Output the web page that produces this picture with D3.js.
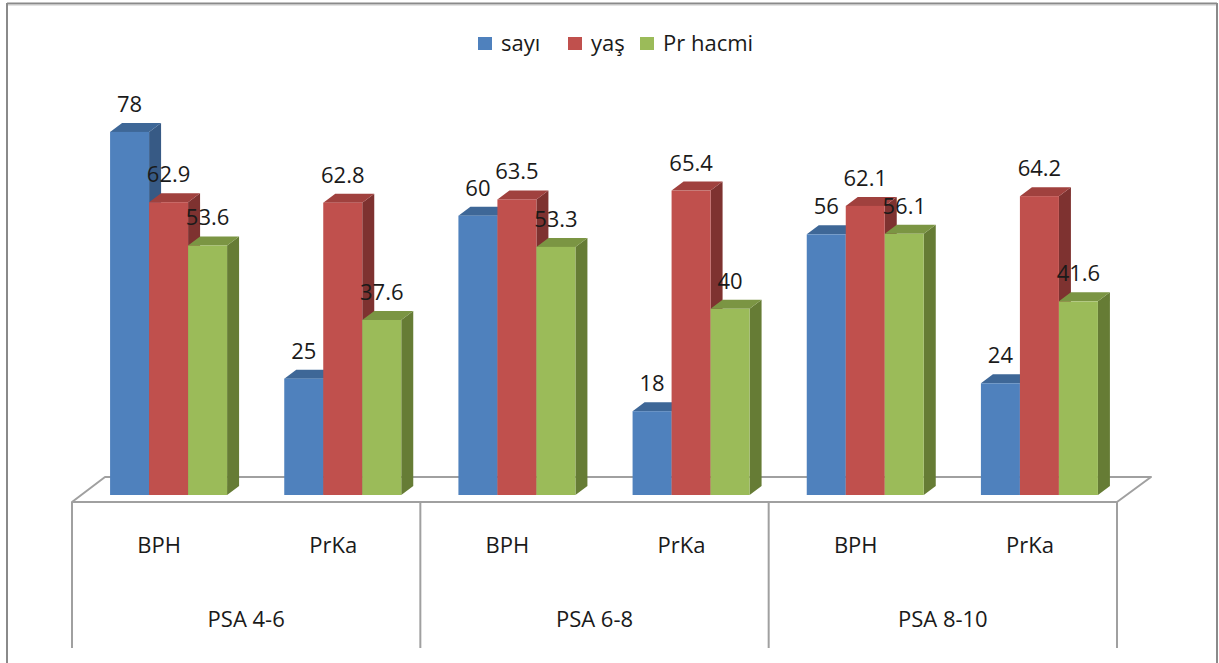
<!DOCTYPE html>
<html>
<head>
<meta charset="utf-8">
<script src="https://cdn.jsdelivr.net/npm/d3@7"></script>
<style>
  html, body { margin: 0; padding: 0; background: #fff; }
  svg { display: block; }
  text { font-family: "Open Sans", "DejaVu Sans", sans-serif; fill: #1a1a1a; }
</style>
</head>
<body>
<svg id="chart" width="1219" height="663"></svg>
<script>
// Sub-categories (diagnosis) inside each PSA range
const groups = ["PSA 4-6", "PSA 6-8", "PSA 8-10"];
const subcats = ["BPH", "PrKa"];
const seriesNames = ["sayı", "yaş", "Pr hacmi"];

// One value per bar, ordered PSA 4-6 BPH, PSA 4-6 PrKa, PSA 6-8 BPH, ...
const sayi    = [78, 25, 60, 18, 56, 24];
const yas     = [62.9, 62.8, 63.5, 65.4, 62.1, 64.2];
const prHacmi = [53.6, 37.6, 53.3, 40, 56.1, 41.6];

const seriesValues = [sayi, yas, prHacmi];
const frontColors = ["#4f81bd", "#c0504d", "#9bbb59"];
const topColors   = ["#3e6797", "#a0413e", "#7b9543"];
const sideColors  = ["#375a85", "#7e3230", "#667c35"];

const svg = d3.select("#chart");

// Plot geometry
const floorFrontY = 502, floorBackY = 477;
const floorLeft = 72, floorRight = 1117;
const floorDx = 34;                 // floor depth, horizontal
const baseY = 495;                  // bar base (front face)
const depthX = 12, depthY = 9;      // bar 3D depth offset
const barW = 39;

const cells = [];
groups.forEach(g => subcats.forEach(s => cells.push(g + "|" + s)));

const x = d3.scaleBand().domain(cells).range([floorLeft, floorRight]).padding(0);
const xGroup = d3.scaleBand().domain(groups).range([floorLeft, floorRight]).padding(0);
const xSeries = d3.scaleBand().domain(seriesNames).range([0, barW * 3]).padding(0);
const y = d3.scaleLinear().domain([0, 80]).range([baseY, baseY - 372.4]);

// Outer frame
svg.append("line").attr("x1", 7).attr("x2", 1217).attr("y1", 3.5).attr("y2", 3.5)
  .attr("stroke", "#8a8a8a").attr("stroke-width", 2);
svg.append("line").attr("x1", 7).attr("x2", 1217).attr("y1", 5).attr("y2", 5)
  .attr("stroke", "#c8c8c8").attr("stroke-width", 1);
svg.append("line").attr("x1", 7).attr("x2", 7).attr("y1", 3).attr("y2", 663)
  .attr("stroke", "#8a8a8a").attr("stroke-width", 2);
svg.append("line").attr("x1", 1217).attr("x2", 1217).attr("y1", 3).attr("y2", 663)
  .attr("stroke", "#8a8a8a").attr("stroke-width", 2);

// Legend
const legend = svg.append("g");
const legendX = [478, 568, 640];
seriesNames.forEach((name, i) => {
  legend.append("rect").attr("x", legendX[i]).attr("y", 37).attr("width", 14).attr("height", 13)
    .attr("fill", frontColors[i]);
  legend.append("text").attr("x", legendX[i] + 23).attr("y", 51)
    .attr("font-size", 22).text(name);
});

// Floor
svg.append("path")
  .attr("d", `M${floorLeft},${floorFrontY} L${floorLeft + floorDx - 1},${floorBackY} L${floorRight + floorDx},${floorBackY} L${floorRight},${floorFrontY} Z`)
  .attr("fill", "#fff").attr("stroke", "#a0a0a0").attr("stroke-width", 2)
  .attr("stroke-linejoin", "round");

// Category table below the floor
const tableBottom = 648;
const dividers = [floorLeft].concat(groups.map(g => xGroup(g) + xGroup.bandwidth()));
svg.selectAll(".divider").data(dividers).enter().append("line")
  .attr("x1", d => d).attr("x2", d => d)
  .attr("y1", floorFrontY).attr("y2", tableBottom)
  .attr("stroke", "#a0a0a0").attr("stroke-width", 2);

svg.selectAll(".subLabel").data(cells).enter().append("text")
  .attr("x", d => x(d) + x.bandwidth() / 2)
  .attr("y", 553)
  .attr("text-anchor", "middle")
  .attr("font-size", 22)
  .text(d => d.split("|")[1]);

svg.selectAll(".groupLabel").data(groups).enter().append("text")
  .attr("x", d => xGroup(d) + xGroup.bandwidth() / 2)
  .attr("y", 627)
  .attr("text-anchor", "middle")
  .attr("font-size", 22)
  .text(d => d);

// Bars with front, top and side faces
const clusterOffset = (x.bandwidth() - barW * 3) / 2 + 9.5;
const bars = [];
cells.forEach((c, ci) => {
  seriesNames.forEach((s, si) => {
    bars.push({ cell: c, series: si, value: seriesValues[si][ci],
                x0: x(c) + clusterOffset + xSeries(s) });
  });
});

const barG = svg.append("g");
bars.forEach(b => {
  const x0 = b.x0, x1 = b.x0 + barW;
  const yt = y(b.value);
  const g = barG.append("g");
  // side face
  g.append("path")
    .attr("d", `M${x1},${yt} L${x1 + depthX},${yt - depthY} L${x1 + depthX},${baseY - depthY} L${x1},${baseY} Z`)
    .attr("fill", sideColors[b.series]);
  // top face
  g.append("path")
    .attr("d", `M${x0},${yt} L${x0 + depthX},${yt - depthY} L${x1 + depthX},${yt - depthY} L${x1},${yt} Z`)
    .attr("fill", topColors[b.series]);
  // front face
  g.append("rect")
    .attr("x", x0).attr("y", yt).attr("width", barW).attr("height", baseY - yt)
    .attr("fill", frontColors[b.series]);
});

// Value labels
svg.selectAll(".valueLabel").data(bars).enter().append("text")
  .attr("x", d => d.x0 + barW / 2)
  .attr("y", d => y(d.value) - 20)
  .attr("text-anchor", "middle")
  .attr("font-size", 22)
  .text(d => d.value);
</script>
</body>
</html>
